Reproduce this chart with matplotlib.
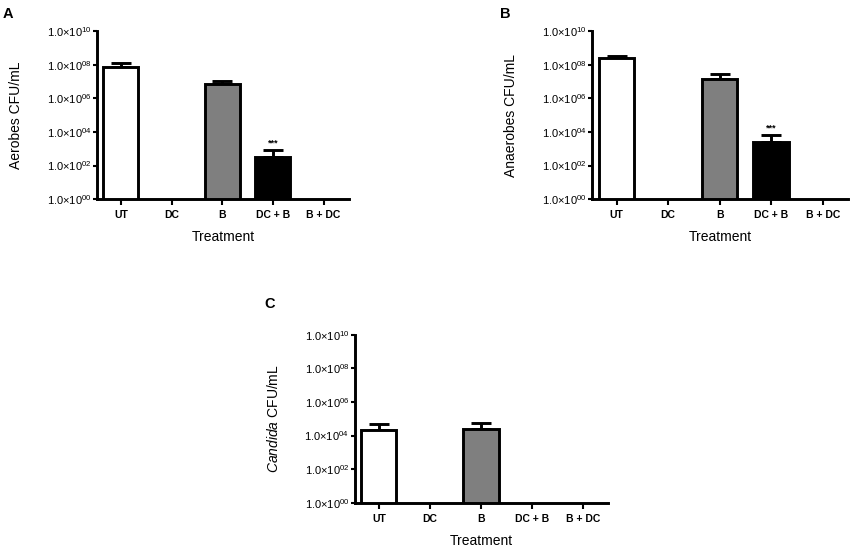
import numpy as np
import matplotlib
matplotlib.use("Agg")
import matplotlib.pyplot as plt

plt.rcParams['font.family'] = ['Liberation Sans', 'DejaVu Sans']
plt.rcParams['mathtext.fontset'] = 'custom'
plt.rcParams['mathtext.rm'] = 'Liberation Sans'
plt.rcParams['mathtext.it'] = 'Liberation Sans:italic'

treatments = ["UT", "DC", "B", "DC + B", "B + DC"]
bar_colors = ["white", "white", "#7f7f7f", "black", "black"]

# means and upper error bar tops (nan = nothing detected)
aerobes = [7.4e7, np.nan, 7.0e6, 330, np.nan]
aerobes_top = [1.2e8, np.nan, 1.1e7, 830, np.nan]
anaerobes = [2.6e8, np.nan, 1.5e7, 2400, np.nan]
anaerobes_top = [3.4e8, np.nan, 2.8e7, 6500, np.nan]
candida = [2.2e4, np.nan, 2.5e4, np.nan, np.nan]
candida_top = [4.9e4, np.nan, 5.4e4, np.nan, np.nan]

stars = {"A": 3, "B": 3}

fig = plt.figure(figsize=(8.51, 5.47), dpi=100)

panels = [
    ("A", [0.114, 0.636, 0.296, 0.307], aerobes, aerobes_top, "Aerobes CFU/mL"),
    ("B", [0.696, 0.636, 0.301, 0.307], anaerobes, anaerobes_top, "Anaerobes CFU/mL"),
    ("C", [0.417, 0.081, 0.298, 0.307], candida, candida_top, r"$\it{Candida}$ CFU/mL"),
]


def draw(ax, letter, vals, tops, ylabel):
    x = np.arange(len(treatments))
    vals = np.array(vals, dtype=float)
    tops = np.array(tops, dtype=float)
    ok = ~np.isnan(vals)
    ax.set_yscale("log")
    ax.bar(x[ok], vals[ok], width=0.69, color=[bar_colors[i] for i in x[ok]],
           edgecolor="black", linewidth=2.1, zorder=2)
    ax.errorbar(x[ok], vals[ok], yerr=[np.zeros(ok.sum()), tops[ok] - vals[ok]],
                fmt="none", ecolor="black", elinewidth=2.1, capsize=7, capthick=2.1,
                zorder=1)
    if letter in stars:
        i = stars[letter]
        ax.annotate("***", (x[i], tops[i]), xytext=(0, 2), textcoords="offset points",
                    ha="center", va="bottom", fontsize=6.5, fontweight="bold")
    ax.set_ylim(1, 1e10)
    ax.set_xlim(-0.47, 4.5)
    yt = [10.0 ** k for k in range(0, 11, 2)]
    ax.set_yticks(yt)
    ax.set_yticklabels([r"1.0$\times$10$^{%02d}$" % k for k in range(0, 11, 2)], fontsize=8)
    ax.minorticks_off()
    ax.set_xticks(x)
    ax.set_xticklabels(treatments, fontsize=7.5, fontweight="bold")
    ax.tick_params(axis="y", length=3, width=1.5, pad=1)
    ax.tick_params(axis="x", length=4, width=1.5, pad=4)
    for s in ["top", "right"]:
        ax.spines[s].set_visible(False)
    for s in ["left", "bottom"]:
        ax.spines[s].set_linewidth(2.1)
    ax.set_xlabel("Treatment", fontsize=10, labelpad=7)
    ax.set_ylabel(ylabel, fontsize=10, labelpad=17)


for letter, rect, vals, tops, ylabel in panels:
    ax = fig.add_axes(rect)
    draw(ax, letter, vals, tops, ylabel)

fig.text(0.003, 0.988, "A", fontsize=10.5, fontweight="bold", va="top")
fig.text(0.588, 0.988, "B", fontsize=10.5, fontweight="bold", va="top")
fig.text(0.311, 0.457, "C", fontsize=10.5, fontweight="bold", va="top")

fig.savefig("out.png", dpi=100)
